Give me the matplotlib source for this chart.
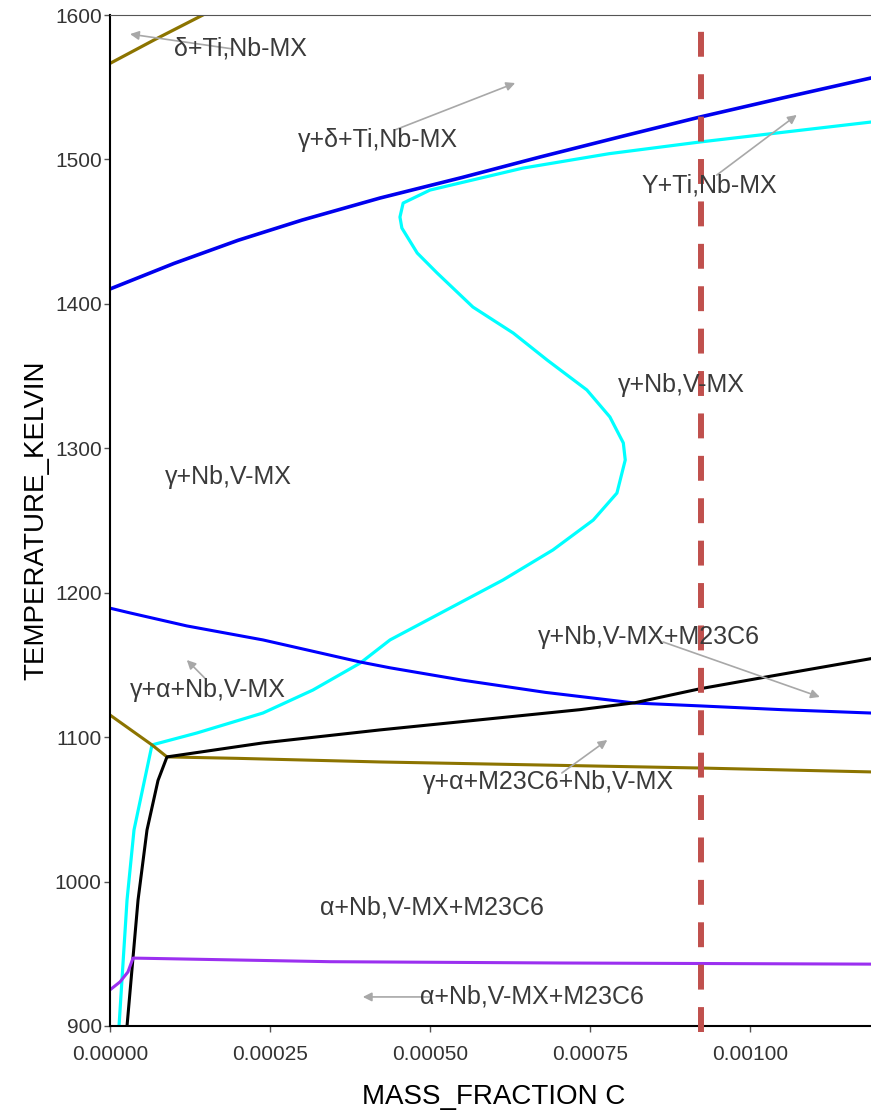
import matplotlib
matplotlib.use("Agg")

import matplotlib.pyplot as plt
from matplotlib.ticker import FormatStrFormatter

plt.rcParams['font.family'] = ['Liberation Sans', 'DejaVu Sans']

# phase boundaries, mass fraction C vs temperature (K)
delta_x = [0.0, 0.00007, 0.000145]
delta_t = [1566.5, 1583.0, 1600.0]

liq_x = [0.0, 0.0001, 0.0002, 0.0003, 0.000422, 0.00055, 0.000672, 0.0008,
         0.000922, 0.00105, 0.0012]
liq_t = [1410.3, 1428.0, 1444.0, 1458.0, 1473.3, 1487.5, 1501.7, 1516.0,
         1529.4, 1542.5, 1557.5]

mx_x = [0.0000141, 0.0000266, 0.0000375, 0.0000656, 0.000136, 0.000239,
        0.000317, 0.000391, 0.0004375, 0.000614, 0.000692, 0.000755,
        0.000792, 0.000805, 0.000802, 0.000781, 0.000745, 0.000683,
        0.00063, 0.000567, 0.000511, 0.00048, 0.000456, 0.000453,
        0.000458, 0.0005, 0.000645, 0.00078, 0.000922, 0.001189, 0.0012]
mx_t = [900.0, 987.2, 1035.7, 1094.6, 1102.9, 1116.7, 1132.6, 1151.3,
        1167.3, 1208.8, 1229.6, 1250.3, 1269.0, 1291.9, 1303.7, 1321.7,
        1340.4, 1361.1, 1379.8, 1397.8, 1421.4, 1435.2, 1452.5, 1460.1,
        1469.8, 1478.8, 1494.0, 1504.0, 1512.1, 1525.9, 1526.5]

tix_x = [0.0, 0.0000313, 0.00012, 0.000239, 0.000391, 0.0004375, 0.00055,
         0.00068, 0.00082, 0.000923, 0.00105, 0.0012]
tix_t = [1189.3, 1186.0, 1177.0, 1167.3, 1152.0, 1148.0, 1139.5, 1131.0,
         1123.6, 1121.6, 1119.0, 1116.5]

m23_x = [0.0000266, 0.0000438, 0.0000578, 0.000075, 0.000089, 0.000239,
         0.000422, 0.000578, 0.000734, 0.00082, 0.000922, 0.001027, 0.0012]
m23_t = [900.0, 987.2, 1035.7, 1070.0, 1086.3, 1096.0, 1105.0, 1112.0,
         1119.0, 1123.8, 1133.5, 1141.8, 1155.2]

a3_x = [0.0, 0.0000656, 0.000089, 0.0002, 0.000422, 0.000923, 0.0012]
a3_t = [1115.3, 1094.6, 1086.3, 1085.3, 1082.8, 1078.6, 1075.8]

a1_x = [0.0, 0.0000156, 0.000028, 0.000036, 0.000344, 0.000703, 0.0012]
a1_t = [925.0, 930.5, 937.4, 947.0, 944.5, 943.6, 942.8]

alloy_c = 0.000923

# region labels: text, (x, T) of label, arrow tail, arrow head
labels = ['δ+Ti,Nb-MX', 'γ+δ+Ti,Nb-MX', 'Y+Ti,Nb-MX', 'γ+Nb,V-MX',
          'γ+Nb,V-MX', 'γ+Nb,V-MX+M23C6', 'γ+α+Nb,V-MX',
          'γ+α+M23C6+Nb,V-MX', 'α+Nb,V-MX+M23C6', 'α+Nb,V-MX+M23C6']
label_pos = [(0.0001, 1576.5), (0.000294, 1513.5), (0.000831, 1482.3),
             (0.000794, 1343.8), (0.0000859, 1280.1), (0.000669, 1169.3),
             (0.0000313, 1132.6), (0.000489, 1069.0), (0.000328, 981.7),
             (0.000484, 920.1)]
arrow_tail = [(0.000192, 1576.5), (0.000445, 1520.4), (0.000948, 1489.2),
              None, None, (0.000864, 1165.9), (0.000148, 1140.9),
              (0.000706, 1075.2), None, (0.0005, 920.1)]
arrow_head = [(0.0000313, 1586.8), (0.000633, 1552.9), (0.001073, 1530.8),
              None, None, (0.001109, 1127.8), (0.00012, 1153.4),
              (0.000777, 1098.0), None, (0.000395, 920.1)]

fig = plt.figure(figsize=(8.71, 11.13), dpi=100)
ax = fig.add_axes([0.1263, 0.0782, 0.8818, 0.9083])

ax.plot(delta_x, delta_t, color='#8c7400', lw=2.3)
ax.plot(liq_x, liq_t, color='#0000ee', lw=2.6)
ax.plot(mx_x, mx_t, color='#00ffff', lw=2.3)
ax.plot(tix_x, tix_t, color='#0000ff', lw=2.2)
ax.plot(a3_x, a3_t, color='#8c7400', lw=2.2)
ax.plot(m23_x, m23_t, color='black', lw=2.2)
ax.plot(a1_x, a1_t, color='#9b30f0', lw=2.2)

# alloy composition, drawn from just below the axis upward
ax.plot([alloy_c, alloy_c], [895.8, 1600], color='#c0504d', lw=4.3,
        dashes=(4.17, 2.93), clip_on=False, zorder=3)

for txt, pos, tail, head in zip(labels, label_pos, arrow_tail, arrow_head):
    if tail is not None:
        ax.annotate('', xy=head, xytext=tail,
                    arrowprops=dict(arrowstyle='-|>', color='#a8a8a8',
                                    lw=1.2, mutation_scale=13,
                                    shrinkA=0, shrinkB=0))
    ax.text(pos[0], pos[1], txt, fontsize=18, color='#3a3a3a',
            ha='left', va='center')

ax.set_xlim(0, 0.0012)
ax.set_ylim(900, 1600)
ax.set_xticks([0, 0.00025, 0.0005, 0.00075, 0.001])
ax.set_yticks(range(900, 1601, 100))
ax.xaxis.set_major_formatter(FormatStrFormatter('%.5f'))
ax.tick_params(labelsize=15, labelcolor='#333333', length=4, width=1,
               color='#555555')
ax.tick_params(axis='x', pad=10)
ax.tick_params(axis='y', pad=2)

ax.spines['right'].set_visible(False)
ax.spines['top'].set_color('#555555')
ax.spines['left'].set_linewidth(1.5)
ax.spines['bottom'].set_linewidth(1.5)

ax.set_xlabel('MASS_FRACTION C', fontsize=20, color='black', labelpad=14)
ax.set_ylabel('TEMPERATURE_KELVIN', fontsize=20, color='black', labelpad=4)

fig.savefig('out.png', dpi=100)
